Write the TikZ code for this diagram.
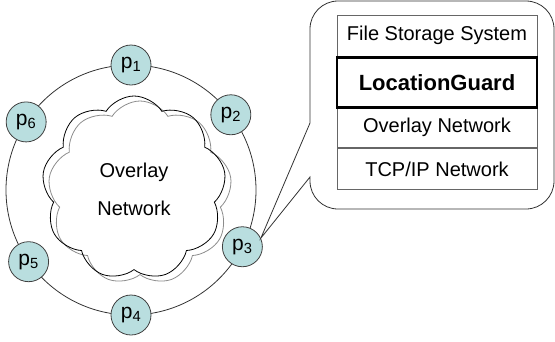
\documentclass[tikz,border=0pt]{standalone}
\usepackage{fontspec}
\setmainfont{Liberation Sans}
\usetikzlibrary{shapes.symbols, positioning, calc}

\definecolor{peerfill}{RGB}{185,222,223}

\begin{document}
\begin{tikzpicture}[
  x=1pt, y=-1pt, line width=0.8pt,
  peer/.style={circle, draw=black!75, fill=peerfill, minimum size=40pt,
               inner sep=0pt, font=\fontsize{21}{21}\selectfont},
  puff/.style={cloud, cloud puffs=9, cloud puff arc=115, aspect=1,
               minimum width=184pt, minimum height=184pt, draw=#1},
  layer/.style={draw=black!60, minimum width=200pt, minimum height=41pt,
                inner sep=0pt, font=\fontsize{20}{24}\selectfont},
]
\useasboundingbox (0,0) rectangle (555,341);
% ring of peers
\coordinate (ringC) at (131,190);
\draw[black!80] (ringC) circle (125);
% overlay cloud, drawn twice
\node[puff=black!45] (shade) at (140,193) {};
\node[puff=black] (overlay) at (134,188) {};
\node[align=center, font=\fontsize{20}{38}\selectfont] (cloudtxt) at (134,189)
     {Overlay\\Network};
\foreach \i/\a in {1/90, 2/37, 3/-27, 4/-90, 5/215, 6/147}
  \node[peer] (p\i) at ($(ringC)+(-\a:125)$) {p\textsubscript{\i}};
% callout of peer p3
\draw[black!80, fill=white] (310,123) [rounded corners=28pt] -- (310,1)
     -- (554,1) -- (554,209) -- (310,209) [sharp corners] -- (310,177)
     -- (p3.25) -- cycle;
% protocol stack
\node[layer] (fs) at (437,35.5) {File Storage System};
\node[layer, below=50pt of fs] (on) {Overlay Network};
\node[layer, below=0pt of on] (tcp) {TCP/IP Network};
\node[layer, below=0pt of fs, draw=black, line width=2.5pt, minimum height=50pt,
      font=\fontsize{22}{24}\selectfont\bfseries] (lg) {LocationGuard};
\end{tikzpicture}
\end{document}
